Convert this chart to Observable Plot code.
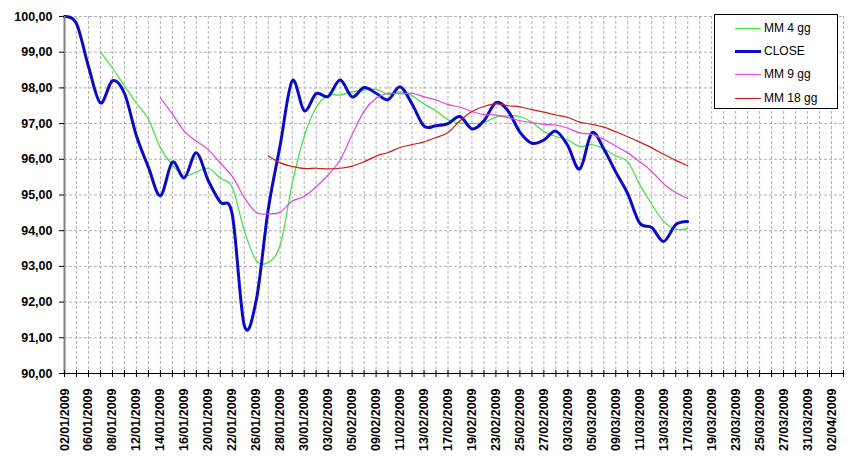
<!DOCTYPE html>
<html><head><meta charset="utf-8">
<script src="https://cdn.jsdelivr.net/npm/d3@7"></script>
<script src="https://cdn.jsdelivr.net/npm/@observablehq/plot@0.6"></script>
<style>
body{margin:0;background:#fff;font-family:"Liberation Sans",Arial,sans-serif;}
#wrap{position:relative;width:858px;height:470px;overflow:hidden;}
#legend{position:absolute;left:714px;top:14px;width:124px;height:95px;border:1px solid #000;background:#fff;box-sizing:border-box;}
.lrow{position:absolute;left:0;width:120px;height:16px;}
.lsw{position:absolute;left:20px;width:26px;top:8px;}
.ltx{position:absolute;left:49px;top:0;font-size:12px;line-height:16px;color:#000;white-space:nowrap;}
</style>
</head><body>
<div id="wrap"><div id="legend"></div></div>
<script>
// trading days (categories)
const dates = ["02/01/2009","05/01/2009","06/01/2009","07/01/2009","08/01/2009","09/01/2009",
"12/01/2009","13/01/2009","14/01/2009","15/01/2009","16/01/2009",
"19/01/2009","20/01/2009","21/01/2009","22/01/2009","23/01/2009",
"26/01/2009","27/01/2009","28/01/2009","29/01/2009","30/01/2009",
"02/02/2009","03/02/2009","04/02/2009","05/02/2009","06/02/2009",
"09/02/2009","10/02/2009","11/02/2009","12/02/2009","13/02/2009",
"16/02/2009","17/02/2009","18/02/2009","19/02/2009","20/02/2009",
"23/02/2009","24/02/2009","25/02/2009","26/02/2009","27/02/2009",
"02/03/2009","03/03/2009","04/03/2009","05/03/2009","06/03/2009",
"09/03/2009","10/03/2009","11/03/2009","12/03/2009","13/03/2009",
"16/03/2009","17/03/2009","18/03/2009","19/03/2009","20/03/2009",
"23/03/2009","24/03/2009","25/03/2009","26/03/2009","27/03/2009",
"30/03/2009","31/03/2009","01/04/2009","02/04/2009","03/04/2009"];

// x tick labels (every second trading day)
const xLabels = ["02/01/2009","06/01/2009","08/01/2009","12/01/2009","14/01/2009","16/01/2009",
"20/01/2009","22/01/2009","26/01/2009","28/01/2009","30/01/2009","03/02/2009","05/02/2009",
"09/02/2009","11/02/2009","13/02/2009","17/02/2009","19/02/2009","23/02/2009","25/02/2009",
"27/02/2009","03/03/2009","05/03/2009","09/03/2009","11/03/2009","13/03/2009","17/03/2009",
"19/03/2009","23/03/2009","25/03/2009","27/03/2009","31/03/2009","02/04/2009"];

const yTicks = [90, 91, 92, 93, 94, 95, 96, 97, 98, 99, 100];

// CLOSE from 02/01/2009
const close = [100.00, 99.80, 98.60, 97.58, 98.20, 97.85, 96.66, 95.78, 94.98, 95.92,
95.48, 96.18, 95.40, 94.80, 94.45, 91.35, 92.05, 94.60, 96.40, 98.20,
97.36, 97.84, 97.76, 98.22, 97.75, 98.01, 97.85, 97.67, 98.03, 97.55,
96.93, 96.94, 97.00, 97.20, 96.85, 97.08, 97.59, 97.36, 96.76, 96.45,
96.54, 96.79, 96.38, 95.73, 96.74, 96.29, 95.64, 95.03, 94.21, 94.09,
93.70, 94.17, 94.26];

// MM 4 gg from 07/01/2009
const mm4 = [99.00, 98.55, 98.06, 97.57, 97.12, 96.32, 95.84,
95.54, 95.64, 95.75, 95.47, 95.21, 94.00, 93.16, 93.11, 93.60, 95.31,
96.64, 97.45, 97.79, 97.80, 97.89, 97.94, 97.96, 97.82, 97.89, 97.78,
97.55, 97.36, 97.11, 97.02, 97.00, 97.03, 97.18, 97.22, 97.20, 97.04,
96.78, 96.64, 96.54, 96.36, 96.41, 96.29, 96.10, 95.93, 95.29, 94.74,
94.26, 94.04, 94.06];

// MM 9 gg from 14/01/2009
const mm9 = [97.72, 97.27, 96.78, 96.51, 96.27, 95.89, 95.52, 94.93, 94.51, 94.47,
94.52, 94.83, 94.96, 95.23, 95.56, 95.98, 96.69, 97.35, 97.71, 97.85,
97.83, 97.85, 97.75, 97.66, 97.53, 97.46, 97.34, 97.25, 97.24, 97.17,
97.08, 97.03, 96.98, 96.96, 96.87, 96.74, 96.70, 96.56, 96.37, 96.18,
95.93, 95.66, 95.31, 95.07, 94.90];

// MM 18 gg from 27/01/2009
const mm18 = [96.10, 95.90, 95.80, 95.74, 95.75, 95.73, 95.75, 95.81, 95.93, 96.09,
96.19, 96.33, 96.41, 96.49, 96.61, 96.75, 97.08, 97.34, 97.48, 97.55,
97.50, 97.47, 97.39, 97.32, 97.24, 97.17, 97.04, 96.98, 96.90, 96.77,
96.63, 96.48, 96.32, 96.14, 95.97, 95.82];

const seriesNames = ["MM 4 gg", "CLOSE", "MM 9 gg", "MM 18 gg"];
const seriesStart = ["07/01/2009", "02/01/2009", "14/01/2009", "27/01/2009"];
const seriesValues = [mm4, close, mm9, mm18];
const seriesColors = ["#3fe23f", "#0a0ac8", "#e243e2", "#d01c1c"];
const seriesWidths = [1.2, 3, 1.2, 1.2];

function rows(i) {
  const s = dates.indexOf(seriesStart[i]);
  return seriesValues[i].map((v, k) => ({date: dates[s + k], value: v}));
}
const fmt = d => d.toFixed(2).replace(".", ",");
const font = "'Liberation Sans', Arial, sans-serif";

const lines = seriesNames.map((n, i) => Plot.line(rows(i), {
  x: "date", y: "value", stroke: seriesColors[i], strokeWidth: seriesWidths[i],
  curve: "cardinal", tension: 0, strokeLinejoin: "round"
}));

const chart = Plot.plot({
  width: 858, height: 470,
  marginLeft: 64, marginRight: 15, marginTop: 16, marginBottom: 97,
  style: {fontFamily: font, fontSize: "12px", color: "#000", background: "#fff", overflow: "visible"},
  x: {type: "point", domain: dates, padding: 0},
  y: {domain: [90, 100]},
  marks: [
    Plot.gridX({ticks: dates, stroke: "#b0b0b0", strokeOpacity: 1, strokeDasharray: "3,2"}),
    Plot.gridY({ticks: yTicks, stroke: "#b0b0b0", strokeOpacity: 1, strokeDasharray: "3,2"}),
    ...lines,
    Plot.ruleY([90], {stroke: "#000", strokeWidth: 1}),
    Plot.ruleX([dates[0]], {stroke: "#808080", strokeWidth: 2}),
    Plot.axisY({ticks: yTicks, tickSize: 5, tickPadding: 7, tickFormat: fmt, fontWeight: "bold", fontSize: 12.5, label: null}),
    Plot.axisX({ticks: dates, tickSize: 7, dy: -3, tickFormat: () => "", label: null}),
    Plot.axisX({ticks: xLabels, tickSize: 0, tickPadding: 15, tickRotate: -90, fontWeight: "bold", fontSize: 12.5, label: null})
  ]
});
const wrap = document.getElementById("wrap");
wrap.insertBefore(chart, wrap.firstChild);

// legend
const lg = document.getElementById("legend");
const rowTops = [5, 28, 51, 75];
seriesNames.forEach((n, i) => {
  const r = document.createElement("div");
  r.className = "lrow"; r.style.top = rowTops[i] + "px";
  const sw = document.createElement("div");
  sw.className = "lsw";
  sw.style.borderTop = seriesWidths[i] > 2 ? `3px solid ${seriesColors[i]}` : `1px solid ${seriesColors[i]}`;
  sw.style.marginTop = seriesWidths[i] > 2 ? "-1px" : "0px";
  const tx = document.createElement("div");
  tx.className = "ltx"; tx.textContent = n;
  r.appendChild(sw); r.appendChild(tx); lg.appendChild(r);
});
</script>
</body></html>
